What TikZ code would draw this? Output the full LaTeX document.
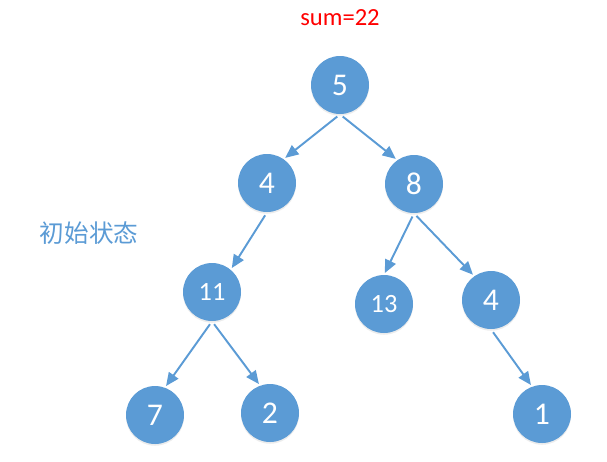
\documentclass[tikz,border=0pt]{standalone}
\usepackage{fontspec}
\setmainfont{Carlito}
\newfontfamily\cjk{Noto Sans CJK SC}
\usetikzlibrary{arrows.meta,shadows}
\definecolor{azzurro}{HTML}{5B9BD5}
\begin{document}
\begin{tikzpicture}[x=0.02cm,y=-0.02cm,
  nodo/.style={circle,fill=azzurro,text=white,minimum size=1.16cm,inner sep=0pt,
    drop shadow={opacity=0.15,shadow xshift=0pt,shadow yshift=-1pt}},
  freccia/.style={draw=azzurro,line width=1.1pt,-{Triangle[length=7.5pt,width=6.5pt]},
    shorten <=2pt,shorten >=1pt}]
  \useasboundingbox (0,0) rectangle (607,461);

  % nodi dell'albero: nome/x/y/valore/corpo
  \foreach \nome/\X/\Y/\val/\fs in {n5/340/85/5/18, n4a/267/183/4/18, n8/414/184/8/18,
      n11/212/292/11/15, n13/384/304/13/15, n4b/491/300/4/18,
      n7/155/415/7/18, n2/270/413/2/18, n1/542/414/1/18} {
    \node[nodo,font=\fontsize{\fs}{\fs}\selectfont] (\nome) at (\X,\Y) {\val};
  }

  % frecce padre -> figlio
  \foreach \a/\b in {n5/n4a.55, n5/n8.125, n4a/n11.50, n11/n7.70, n11/n2.110,
      n8/n13.north, n8/n4b.125, n4b/n1.110} {
    \draw[freccia] (\a.south) -- (\b);
  }

  \node[text=red,font=\fontsize{14}{14}\selectfont] (somma) at (340,18) {sum=22};
  \node[text=azzurro,font=\cjk\fontsize{14}{14}\selectfont] (stato) at (89,233) {初始状态};
\end{tikzpicture}
\end{document}
